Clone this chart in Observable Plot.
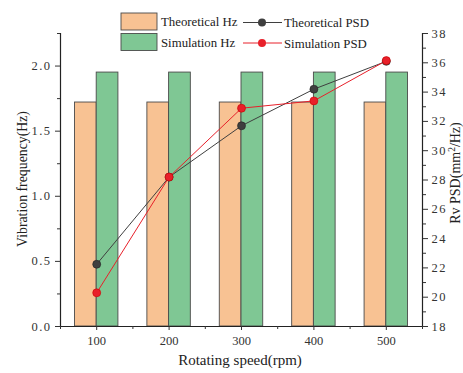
<!DOCTYPE html>
<html><head><meta charset="utf-8">
<script src="https://cdn.jsdelivr.net/npm/d3@7"></script>
<script src="https://cdn.jsdelivr.net/npm/@observablehq/plot@0.6"></script>
<style>body{margin:0;background:#fff}#c{position:relative;width:463px;height:373px}</style>
</head><body><div id="c"></div>
<script>
const speeds = [100, 200, 300, 400, 500];
const theoreticalHz = [1.72, 1.72, 1.72, 1.72, 1.72];
const simulationHz = [1.95, 1.95, 1.95, 1.95, 1.95];
const theoreticalPSD = [22.25, 28.2, 31.7, 34.2, 36.1];
const simulationPSD = [20.3, 28.2, 32.9, 33.4, 36.15];
const leftTicks = [0, 0.5, 1.0, 1.5, 2.0];
const rightTicks = [18, 20, 22, 24, 26, 28, 30, 32, 34, 36, 38];

const font = "'Liberation Serif', 'DejaVu Serif', serif";
const orange = "#F8C293", green = "#7FC794", grey = "#3f3f3f", red = "#E8202A";
const yMax = 2.25, rMin = 18, rMax = 38;
const toLeft = v => (v - rMin) / (rMax - rMin) * yMax;
const barW = 30;

const bars = [];
speeds.forEach((s, i) => {
  bars.push({x1: s - barW, x2: s, v: theoreticalHz[i], fill: orange});
  bars.push({x1: s, x2: s + barW, v: simulationHz[i], fill: green});
});
const tPSD = speeds.map((s, i) => ({x: s, y: toLeft(theoreticalPSD[i])}));
const sPSD = speeds.map((s, i) => ({x: s, y: toLeft(simulationPSD[i])}));
const minorLeft = d3.range(0, yMax + 0.001, 0.25).filter(v => !leftTicks.includes(v));
const minorRight = d3.range(rMin, rMax + 0.001, 1).filter(v => !rightTicks.includes(v));
const minorX = [50, 150, 250, 350, 450, 550];

const plot = Plot.plot({
  width: 463, height: 373,
  marginLeft: 60, marginRight: 41, marginTop: 33, marginBottom: 47,
  style: {fontFamily: font, fontSize: "12.5px", color: "#333", background: "#fff"},
  x: {domain: [50, 550]},
  y: {domain: [0, yMax]},
  marks: [
    Plot.rectY(bars, {x1: "x1", x2: "x2", y1: 0, y2: "v", fill: "fill", stroke: "#4a4a4a", strokeWidth: 0.9}),
    Plot.line(tPSD, {x: "x", y: "y", stroke: grey, strokeWidth: 1}),
    Plot.line(sPSD, {x: "x", y: "y", stroke: red, strokeWidth: 1}),
    Plot.dot(tPSD, {x: "x", y: "y", r: 4, fill: grey, stroke: "#222", strokeWidth: 0.6}),
    Plot.dot(sPSD, {x: "x", y: "y", r: 4, fill: red, stroke: "#c00", strokeWidth: 0.6}),
    // left axis
    Plot.ruleX([50], {stroke: "#222", strokeWidth: 1.2}),
    Plot.axisY({anchor: "left", ticks: leftTicks, tickSize: 5, tickPadding: 4, tickFormat: d3.format(".1f"), label: null, fontSize: 12.5}),
    Plot.axisY({anchor: "left", ticks: minorLeft, tickSize: 3, tickFormat: () => "", label: null}),
    // right axis
    Plot.ruleX([550], {stroke: "#222", strokeWidth: 1.2}),
    Plot.axisY({anchor: "right", ticks: rightTicks.map(toLeft), tickSize: 5, tickPadding: 4, tickFormat: (d, i) => String(rightTicks[i]), label: null, fontSize: 12.5}),
    Plot.axisY({anchor: "right", ticks: minorRight.map(toLeft), tickSize: 3, tickFormat: () => "", label: null}),
    // x axis
    Plot.ruleY([0], {stroke: "#222", strokeWidth: 1.2}),
    Plot.axisX({ticks: speeds, tickSize: 4, tickPadding: 6, label: null, fontSize: 12.5}),
    Plot.axisX({ticks: minorX, tickSize: 3, tickFormat: () => "", label: null})
  ]
});
document.getElementById("c").appendChild(plot);
d3.select(plot).selectAll("[aria-label='y-axis tick label'] text").attr("letter-spacing", 1.5);

// axis titles and legend
const svg = d3.select(plot);
const lab = svg.append("g").attr("font-family", font).attr("fill", "#222").attr("text-anchor", "middle");
lab.append("text").attr("x", 240).attr("y", 365).attr("font-size", 15).text("Rotating speed(rpm)");
lab.append("text").attr("transform", "translate(27,179) rotate(-90)").attr("font-size", 13.8).text("Vibration frequency(Hz)");
const rt = lab.append("text").attr("transform", "translate(460,173) rotate(-90)").attr("font-size", 14);
rt.append("tspan").text("Rv PSD(mm");
rt.append("tspan").attr("font-size", 9.5).attr("dy", -5.5).text("2");
rt.append("tspan").attr("dy", 5.5).text("/Hz)");

const leg = svg.append("g").attr("font-family", font).attr("font-size", 12.8).attr("fill", "#222").attr("text-anchor", "start");
const barLeg = [{label: "Theoretical Hz", fill: orange}, {label: "Simulation Hz", fill: green}];
barLeg.forEach((d, i) => {
  const y = 13 + i * 20.5;
  leg.append("rect").attr("x", 121).attr("y", y).attr("width", 36).attr("height", 17).attr("fill", d.fill).attr("stroke", "#4a4a4a").attr("stroke-width", 0.9);
  leg.append("text").attr("x", 161).attr("y", y + 13).text(d.label);
});
const lineLeg = [{label: "Theoretical PSD", c: grey}, {label: "Simulation PSD", c: red}];
lineLeg.forEach((d, i) => {
  const y = 22.5 + i * 20.5;
  leg.append("line").attr("x1", 243).attr("x2", 282).attr("y1", y).attr("y2", y).attr("stroke", d.c).attr("stroke-width", 1);
  leg.append("circle").attr("cx", 262).attr("cy", y).attr("r", 4).attr("fill", d.c);
  leg.append("text").attr("x", 284).attr("y", y + 4.5).text(d.label);
});
</script></body></html>
